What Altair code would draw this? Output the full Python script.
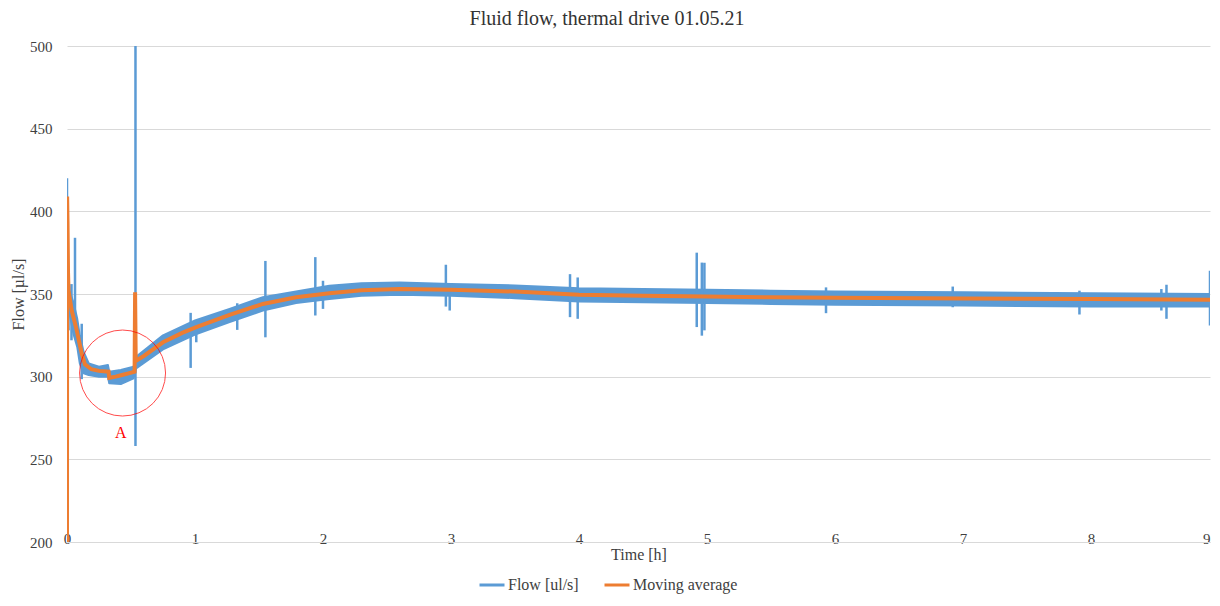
import altair as alt
import pandas as pd

# ---------------- data ----------------
# Moving average (orange)
ma_t = [0.000, 0.001, 0.004, 0.008, 0.012, 0.020, 0.037, 0.076, 0.115, 0.140,
        0.190, 0.250, 0.325, 0.330, 0.380, 0.430, 0.480, 0.528, 0.532, 0.537,
        0.600, 0.750, 0.900, 1.010, 1.270, 1.530, 1.790, 2.050, 2.300, 2.600,
        3.000, 3.500, 4.000, 4.500, 5.000, 5.500, 6.000, 7.000, 8.000, 8.930]
ma_v = [195, 409, 394, 363, 352, 348, 340, 328, 314, 307.5,
        304.5, 303.5, 303, 299.3, 300, 301, 302, 303, 351, 309.5,
        312.5, 320.8, 326.5, 330, 337.4, 344, 348, 350.5, 352.3, 353,
        352.5, 351.5, 349.5, 349, 348.5, 348, 347.7, 347.3, 347, 346.5]

# Flow [ul/s] (blue) noise band: lower / upper envelope
band_t = [0.015, 0.020, 0.050, 0.080, 0.100, 0.130, 0.170, 0.250, 0.320, 0.330,
          0.420, 0.520, 0.540, 0.750, 1.000, 1.270, 1.530, 1.790, 2.050, 2.300,
          2.600, 3.000, 3.500, 4.000, 4.500, 5.000, 5.500, 6.000, 7.000, 8.000, 8.930]
band_lo = [338, 338, 326, 318, 308, 302, 301, 300, 300, 296,
           295.5, 299, 305, 316.5, 325.5, 333, 340, 344.5, 347, 349,
           349.5, 349, 347.5, 345.5, 345, 344.5, 344, 343.5, 343, 342.5, 342.5]
band_hi = [356, 352, 345, 335, 325, 315, 308, 306, 307, 303,
           304, 306, 312, 325, 334, 341, 348, 351.5, 355, 356.5,
           357, 356, 355.2, 353.5, 353, 352.5, 352, 351.5, 351, 350.5, 350]

# Flow [ul/s] (blue) spikes
spike_t = [0.000, 0.012, 0.035, 0.0625, 0.115, 0.535, 0.966, 1.010, 1.330, 1.550,
           1.940, 2.000, 2.960, 2.990, 3.930, 3.990, 4.920, 4.960, 4.980, 5.930,
           6.920, 7.910, 8.550, 8.590, 8.930]
spike_lo = [340, 328, 322, 330, 298.5, 258, 305.3, 320.8, 328.3, 323.8,
            337, 341, 342.4, 340, 336, 335, 330, 324.8, 328, 338.4,
            342, 337.6, 340, 335, 331]
spike_hi = [420, 364, 356, 384, 332, 500, 338.6, 332.9, 344.4, 370,
            372.3, 358, 367.7, 355, 362, 360, 375, 369, 368.9, 354,
            354.5, 352, 353, 355.6, 364]

series_names = ["Flow [ul/s]", "Moving average"]
series_colors = ["#5B9BD5", "#ED7D31"]

x_ticks = [0, 1, 2, 3, 4, 5, 6, 7, 8, 8.93]
y_ticks = [200, 250, 300, 350, 400, 450, 500]

circle_t = [0.434]
circle_v = [302.2]
label_t = [0.42]
label_v = [265.9]
label_text = ["A"]

title_text = ["Fluid flow, thermal drive 01.05.21"]

FONT = "Liberation Serif"

# ---------------- tables ----------------
ma_df = pd.DataFrame({"t": ma_t, "v": ma_v, "series": series_names[1]})
band_df = pd.DataFrame({"t": band_t, "lo": band_lo, "hi": band_hi})
spike_df = pd.DataFrame({"t": spike_t, "lo": spike_lo, "hi": spike_hi,
                         "series": series_names[0]})
circle_df = pd.DataFrame({"t": circle_t, "v": circle_v})
label_df = pd.DataFrame({"t": label_t, "v": label_v, "txt": label_text})
title_df = pd.DataFrame({"txt": title_text})

x_scale = alt.Scale(domain=[0, 8.93], nice=False, zero=False)
y_scale = alt.Scale(domain=[200, 500], nice=False, zero=False)
color_scale = alt.Scale(domain=series_names, range=series_colors)

x_axis = alt.Axis(
    values=x_ticks,
    labelExpr="'' + round(datum.value)",
    labelAlign=alt.condition("datum.value > 8.5", alt.value("right"), alt.value("center")),
    grid=False, ticks=False, tickSize=0,
    domain=True, domainColor="#d9d9d9", domainWidth=1,
    labelBaseline="alphabetic", labelPadding=1,
    labelFont=FONT, labelFontSize=15, labelColor="#404040",
    labelFlush=False, labelOverlap=False,
    title="Time [h]", titleFont=FONT, titleFontSize=16, titleFontWeight="normal",
    titleColor="#404040", titleX=571.5, titleY=12, titleBaseline="middle",
    titleAlign="center",
)
y_axis = alt.Axis(
    values=y_ticks,
    grid=True, gridColor="#d9d9d9", gridWidth=1,
    ticks=False, tickSize=0, domain=False,
    labelPadding=15, labelFont=FONT, labelFontSize=15, labelColor="#404040",
    title="Flow [µl/s]", titleFont=FONT, titleFontSize=16, titleFontWeight="normal",
    titleColor="#404040", titleX=-49, titleY=248, titleAngle=270,
    titleBaseline="middle", titleAlign="center",
)

base_x = alt.X("t:Q", scale=x_scale, axis=x_axis)

band = alt.Chart(band_df).mark_area(
    color="#5B9BD5", stroke="#5B9BD5", strokeWidth=2, strokeJoin="round",
    clip=True, opacity=1
).encode(
    x=base_x,
    y=alt.Y("lo:Q", scale=y_scale, axis=y_axis),
    y2="hi:Q",
)

legend = alt.Legend(
    title=None, orient="none", legendX=411, legendY=525,
    direction="horizontal", symbolType="stroke", symbolSize=625,
    symbolStrokeWidth=3, labelFont=FONT, labelFontSize=16,
    labelColor="#404040", labelOffset=2, columnPadding=19, labelLimit=300,
)

spikes = alt.Chart(spike_df).mark_rule(strokeWidth=2.5, clip=True).encode(
    x=alt.X("t:Q", scale=x_scale),
    y=alt.Y("lo:Q", scale=y_scale),
    y2="hi:Q",
    color=alt.Color("series:N", scale=color_scale, legend=legend),
)

ma_line = alt.Chart(ma_df).mark_line(strokeWidth=4, clip=True).encode(
    x=alt.X("t:Q", scale=x_scale),
    y=alt.Y("v:Q", scale=y_scale),
    color=alt.Color("series:N", scale=color_scale, legend=legend),
)

circle = alt.Chart(circle_df).mark_point(
    shape="circle", size=7396, filled=False, stroke="#FF0000", strokeWidth=1
).encode(
    x=alt.X("t:Q", scale=x_scale),
    y=alt.Y("v:Q", scale=y_scale),
)

label = alt.Chart(label_df).mark_text(
    font=FONT, fontSize=16, color="#FF0000", align="center", baseline="middle"
).encode(
    x=alt.X("t:Q", scale=x_scale),
    y=alt.Y("v:Q", scale=y_scale),
    text="txt:N",
)

title = alt.Chart(title_df).mark_text(
    font=FONT, fontSize=20, color="#333333", align="center", baseline="alphabetic"
).encode(
    x=alt.value(540),
    y=alt.value(-21),
    text="txt:N",
)

chart = alt.layer(band, spikes, ma_line, circle, label, title).properties(
    width=1143,
    height=496,
    autosize=alt.AutoSizeParams(type="none"),
    padding={"left": 59, "top": 38, "right": 2, "bottom": 56},
    background="white",
).configure_view(stroke=None)

chart.save("out.html", embed_options={"renderer": "svg", "actions": False})
